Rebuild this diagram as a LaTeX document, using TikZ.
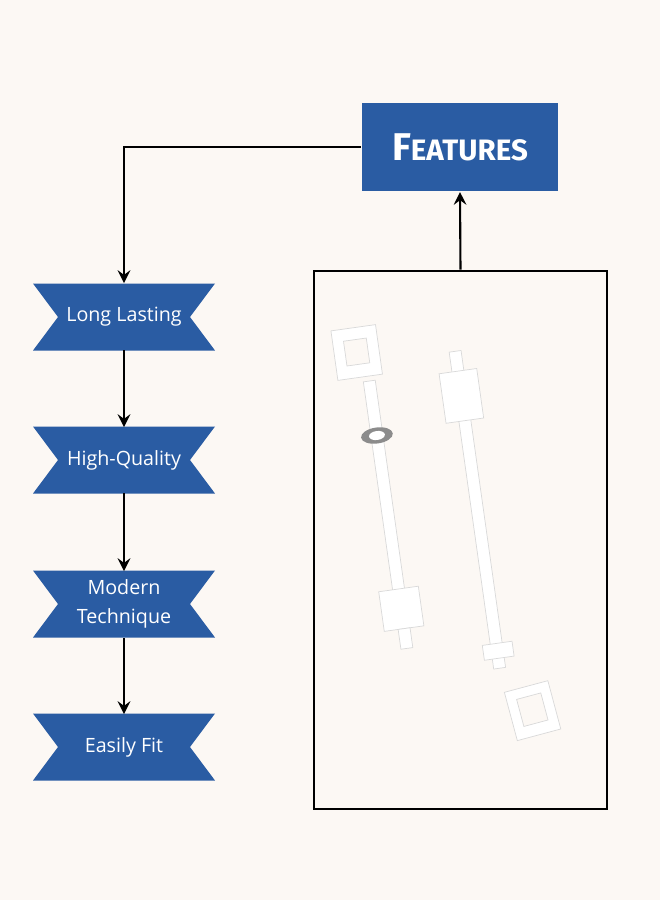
\documentclass[tikz,border=0pt]{standalone}
\usepackage{fontspec}
\setmainfont{Open Sans}
\newfontfamily\titlefont{Fira Sans}
\usetikzlibrary{positioning}
\definecolor{bg}{HTML}{FCF8F4}
\definecolor{featblue}{HTML}{2A5CA3}
\tikzset{
  bannertext/.style={text=white,font=\fontsize{5.6}{8.4}\selectfont,align=center},
  rod/.style={fill=white,draw=black!15,very thin},
}
\newcommand{\ribbon}[2]{%
  \fill[featblue] (0.33,#1+0.335) -- (2.15,#1+0.335) -- (1.90,#1) -- (2.15,#1-0.335)
        -- (0.33,#1-0.335) -- (0.58,#1) -- cycle;
  \coordinate (#2) at (1.24,#1);}
\begin{document}
\begin{tikzpicture}[>=stealth,semithick,x=1cm,y=1cm]
\fill[bg] (0,0) rectangle (6.6,-9);
\useasboundingbox (0,0) rectangle (6.6,-9);

% title box
\node[fill=featblue,text=white,minimum width=1.96cm,minimum height=0.88cm,inner sep=0pt,
      font=\titlefont\bfseries\fontsize{11}{12}\selectfont] (feat) at (4.60,-1.47)
      {F{\fontsize{8.4}{10}\selectfont EATURES}};

% feature banners
\ribbon{-3.17}{b1}
\ribbon{-4.60}{b2}
\ribbon{-6.04}{b3}
\ribbon{-7.47}{b4}
\node[bannertext] at (b1) {Long Lasting};
\node[bannertext] at (b2) {High-Quality};
\node[bannertext] at (b3) {Modern\\Technique};
\node[bannertext] at (b4) {Easily Fit};
\coordinate (b1top) at (1.24,-2.83);
\coordinate (b2top) at (1.24,-4.27);
\coordinate (b3top) at (1.24,-5.71);
\coordinate (b4top) at (1.24,-7.14);
\coordinate (b1bot) at (1.24,-3.50);
\coordinate (b2bot) at (1.24,-4.93);
\coordinate (b3bot) at (1.24,-6.38);
\coordinate (corner) at (1.24,-1.47);

% photo frame
\node[draw=black,thick,minimum width=2.93cm,minimum height=5.38cm] (photo) at (4.605,-5.40) {};

% rods
\begin{scope}[rotate around={8:(3.85,-5.0)}]
\filldraw[rod] (3.80,-3.8) rectangle (3.92,-6.3);
\filldraw[rod] (3.55,-3.25) rectangle (4.0,-3.75);
\filldraw[rod,fill=bg] (3.66,-3.37) rectangle (3.89,-3.62);
\filldraw[rod] (3.66,-5.9) rectangle (4.06,-6.3);
\filldraw[rod] (3.80,-6.3) rectangle (3.92,-6.5);
\fill[black!45] (3.86,-4.35) ellipse (0.16 and 0.08);
\fill[white] (3.86,-4.35) ellipse (0.08 and 0.045);
\end{scope}
\begin{scope}[rotate around={8:(4.75,-5.0)}]
\filldraw[rod] (4.70,-3.5) rectangle (4.82,-6.7);
\filldraw[rod] (4.57,-3.7) rectangle (4.95,-4.2);
\filldraw[rod] (4.62,-6.45) rectangle (4.92,-6.6);
\end{scope}
\begin{scope}[rotate around={15:(5.35,-7.1)}]
\filldraw[rod] (5.1,-6.85) rectangle (5.55,-7.35);
\filldraw[rod,fill=bg] (5.2,-6.95) rectangle (5.45,-7.23);
\end{scope}

% connectors
\draw[->] (feat.west) -- (corner) -- (b1top);
\draw[->] (b1bot) -- (b2top);
\draw[->] (b2bot) -- (b3top);
\draw[->] (b3bot) -- (b4top);
\draw[->] (photo.north) -- (feat.south);
\end{tikzpicture}
\end{document}
